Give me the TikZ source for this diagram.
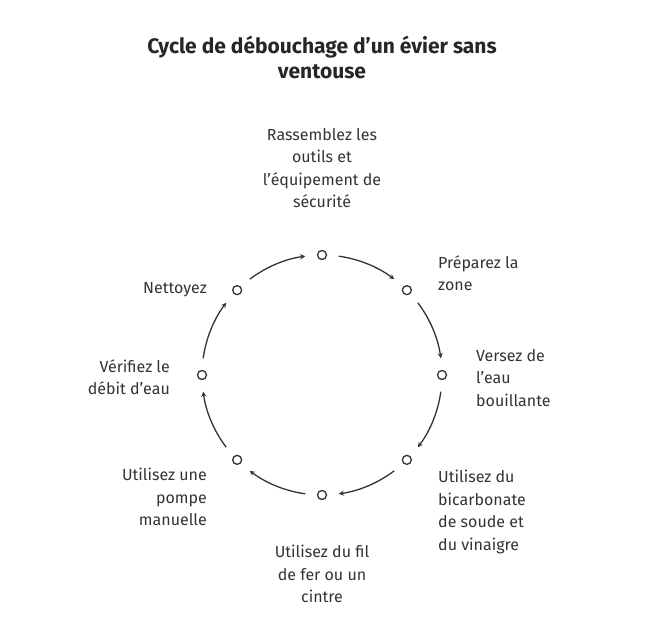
\documentclass[tikz,border=0pt]{standalone}
\usepackage{fontspec}
\setmainfont{Fira Sans}
\usetikzlibrary{calc}
\def\rad{120}
\tikzset{
  dotmark/.style={circle,draw=black!80,line width=1.3pt,inner sep=0pt,minimum size=9pt,fill=white},
  lbl/.style={font=\fontsize{16}{22.5}\selectfont,text=black!80,inner sep=0pt},
  cycarrow/.style={->,>=stealth,line width=1.3pt,draw=black!80}
}
\begin{document}
\begin{tikzpicture}[x=1pt,y=1pt]
\useasboundingbox (0,0) rectangle (645,-631);
\node[font=\fontsize{21}{25}\selectfont\bfseries,text=black!85,align=center,name=title] at (322,-57) {Cycle de débouchage d'un évier sans\\ventouse};
\coordinate (ctr) at (322,-375);
\foreach \ang/\nm in {90/a,45/b,0/c,-45/d,-90/e,-135/f,180/g,135/h}{
  \node[dotmark,name=dot\nm] at ($(ctr)+(\ang:\rad)$) {};
  \draw[cycarrow] ($(ctr)+(\ang-8:\rad)$) arc (\ang-8:\ang-37:\rad);
}
\node[lbl,align=center,name=lblA] at (322,-168) {Rassemblez les\\outils et\\l'équipement de\\sécurité};
\node[lbl,align=left,anchor=west,name=lblB] at (438,-273) {Préparez la\\zone};
\node[lbl,align=left,anchor=west,name=lblC] at (476,-378) {Versez de\\l'eau\\bouillante};
\node[lbl,align=left,anchor=west,name=lblD] at (438,-512) {Utilisez du\\bicarbonate\\de soude et\\du vinaigre};
\node[lbl,align=center,name=lblE] at (322,-574) {Utilisez du fil\\de fer ou un\\cintre};
\node[lbl,align=right,anchor=east,name=lblF] at (207,-497) {Utilisez une\\pompe\\manuelle};
\node[lbl,align=right,anchor=east,name=lblG] at (170,-377) {Vérifiez le\\débit d'eau};
\node[lbl,align=right,anchor=east,name=lblH] at (207,-290) {Nettoyez};
\end{tikzpicture}
\end{document}
